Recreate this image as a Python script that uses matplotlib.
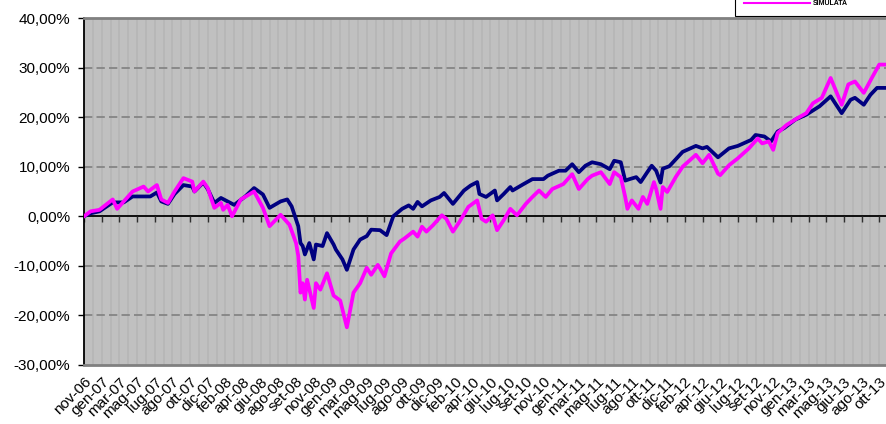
import matplotlib
matplotlib.use("Agg")
from matplotlib import pyplot as plt
from matplotlib.ticker import FuncFormatter

plt.rcParams['font.family'] = ['Liberation Sans', 'DejaVu Sans']

# weekly index (0 = nov-06) and cumulative return in %
bench_weeks = [0, 3, 7, 13, 18, 22, 27, 30, 33, 35, 38, 41, 45, 49, 50, 54, 56, 59, 62, 65,
               68, 73, 77, 81, 84, 89, 92, 94, 97, 98, 99, 100, 102, 104, 105, 108, 110, 113,
               114, 117, 119, 122, 125, 128, 130, 134, 137, 140, 144, 147, 149, 151, 153, 157,
               161, 163, 167, 172, 175, 178, 179, 182, 186, 187, 190, 193, 194, 199, 203, 208,
               210, 215, 218, 221, 224, 227, 230, 234, 238, 240, 243, 245, 247, 250, 252, 255,
               257, 259, 261, 262, 265, 271, 277, 280, 282, 287, 292, 296, 302, 304, 308, 311,
               314, 317, 322, 327, 333, 338, 343, 347, 349, 353, 356, 359, 363]
bench = [0.0, 0.6, 1.0, 2.8, 2.8, 4.0, 4.0, 4.0, 4.8, 3.0, 2.5, 4.5, 6.3, 6.0, 5.0, 6.8, 5.5,
         2.7, 3.7, 3.0, 2.3, 4.0, 5.7, 4.4, 1.7, 3.0, 3.4, 2.0, -2.0, -5.4, -6.0, -7.7, -5.4,
         -8.7, -5.7, -6.0, -3.4, -5.7, -6.7, -8.7, -10.8, -6.7, -4.7, -4.0, -2.7, -2.8, -3.8,
         0.0, 1.5, 2.2, 1.5, 2.9, 2.0, 3.2, 3.9, 4.7, 2.5, 5.2, 6.2, 6.9, 4.5, 3.9, 5.2, 3.2,
         4.5, 5.9, 5.2, 6.5, 7.5, 7.5, 8.2, 9.2, 9.2, 10.5, 8.9, 10.2, 10.9, 10.5, 9.5, 11.2,
         10.9, 7.2, 7.5, 7.9, 6.9, 8.9, 10.2, 9.2, 6.8, 9.6, 10.1, 13.0, 14.2, 13.7, 14.0, 11.9,
         13.7, 14.2, 15.4, 16.4, 16.1, 15.1, 17.1, 17.8, 19.5, 20.5, 22.2, 24.2, 20.8, 23.5,
         23.9, 22.5, 24.5, 25.9, 25.9]

sim_weeks = [0, 3, 7, 13, 15, 18, 22, 27, 29, 33, 35, 38, 41, 45, 49, 50, 54, 56, 59, 62, 63,
             65, 67, 71, 77, 81, 84, 89, 91, 93, 96, 97, 98, 99, 100, 101, 104, 105, 107, 110,
             113, 116, 119, 122, 125, 128, 130, 133, 134, 136, 139, 143, 145, 149, 151, 153,
             155, 158, 162, 164, 167, 170, 174, 178, 180, 182, 185, 187, 190, 193, 196, 200,
             203, 206, 209, 212, 217, 221, 224, 228, 230, 234, 238, 240, 243, 245, 246, 248,
             251, 253, 255, 258, 259, 261, 262, 264, 268, 271, 277, 280, 283, 287, 288, 292,
             296, 301, 305, 307, 310, 312, 314, 318, 323, 327, 330, 334, 338, 343, 346, 349,
             353, 357, 360, 363]
sim = [0.0, 1.0, 1.3, 3.4, 1.5, 3.0, 5.0, 6.0, 5.0, 6.3, 3.4, 2.7, 5.0, 7.7, 7.0, 5.0, 7.0,
       5.7, 1.7, 2.7, 1.3, 2.3, 0.0, 3.4, 5.0, 1.7, -2.0, 0.3, -0.7, -1.7, -5.4, -8.0, -15.4,
       -13.5, -16.8, -12.8, -18.5, -13.5, -14.8, -11.5, -16.0, -17.0, -22.4, -15.4, -13.5,
       -10.4, -11.8, -9.8, -10.5, -12.1, -7.5, -5.1, -4.5, -3.1, -4.1, -2.1, -3.1, -1.8, 0.2,
       -0.5, -3.1, -1.1, 1.9, 3.2, -0.5, -1.1, 0.2, -2.8, -0.8, 1.5, 0.2, 2.5, 3.9, 5.2, 3.9,
       5.5, 6.5, 8.5, 5.5, 7.5, 8.2, 8.9, 6.5, 8.9, 7.9, 3.9, 1.5, 3.2, 1.5, 3.9, 2.5, 6.9,
       5.5, 1.5, 5.9, 4.9, 8.0, 10.0, 12.4, 10.7, 12.4, 8.6, 8.3, 10.3, 11.7, 13.7, 15.7,
       14.7, 15.1, 13.4, 16.8, 18.4, 19.8, 20.8, 22.8, 23.9, 27.9, 22.5, 26.6, 27.2, 24.9,
       28.2, 30.6, 30.6]

month_labels = ["nov-06", "gen-07", "mar-07", "mag-07", "lug-07", "ago-07", "ott-07", "dic-07",
                "feb-08", "apr-08", "giu-08", "ago-08", "set-08", "nov-08", "gen-09", "mar-09",
                "mag-09", "lug-09", "ago-09", "ott-09", "dic-09", "feb-10", "apr-10", "giu-10",
                "lug-10", "set-10", "nov-10", "gen-11", "mar-11", "mag-11", "lug-11", "ago-11",
                "ott-11", "dic-11", "feb-12", "apr-12", "giu-12", "lug-12", "set-12", "nov-12",
                "gen-13", "mar-13", "mag-13", "giu-13", "ago-13", "ott-13"]
label_step = 8   # one label every 8 weeks
n_weeks = 366

fig = plt.figure(figsize=(8.86, 4.24), dpi=100)
W, H = 886, 424
ax = fig.add_axes([84 / W, 59 / H, n_weeks * 2.209 / W, 347 / H])
ax.set_facecolor("#c0c0c0")

# faint vertical stripes every 4 weeks
for w in range(4, n_weeks, 4):
    ax.axvline(w, color="#b5b5b5", lw=1.1, zorder=0.5)

ax.set_ylim(-30, 40)
ax.set_xlim(0, n_weeks)
ax.set_yticks(range(-30, 41, 10))
ax.yaxis.set_major_formatter(FuncFormatter(lambda v, p: f"{v:.2f}%".replace(".", ",")))
for v in range(-20, 40, 10):
    if v != 0:
        ax.axhline(v, color="#808080", lw=1.2, dashes=(5, 2.5), zorder=1)

ticks = [i * label_step for i in range(len(month_labels))]
ax.set_xticks(ticks)
ax.set_xticklabels(month_labels, rotation=45, ha="right", va="top", rotation_mode="anchor")
ax.tick_params(axis="x", length=0, pad=7, labelsize=11)
ax.tick_params(axis="y", length=4, width=1, direction="out", pad=6, labelsize=11)

# category axis crossing at zero with tick marks
ax.axhline(0, color="black", lw=1.3, zorder=2)
ax.vlines(ticks, -1.1, 0, color="#303030", lw=1.0, zorder=2)

ax.plot(bench_weeks, bench, color="#000080", lw=2.7, label="BENCHMARK DI RIFERIMENTO",
        zorder=3, solid_joinstyle="round")
ax.plot(sim_weeks, sim, color="#ff00ff", lw=2.7, label="SIMULATA", zorder=4,
        solid_joinstyle="round")

ax.spines["left"].set_color("black")
ax.spines["left"].set_linewidth(1.3)
for s in ["top", "bottom", "right"]:
    ax.spines[s].set_color("#808080")
    ax.spines[s].set_linewidth(2)

leg = ax.legend(loc="lower left", bbox_to_anchor=(735 / W, 1 - 16 / H),
                bbox_transform=fig.transFigure, prop={"size": 5, "weight": "bold"},
                frameon=True, fancybox=False, edgecolor="black", borderpad=1.3,
                borderaxespad=0, handlelength=9.5, handletextpad=0.4, labelspacing=0.8,
                framealpha=1)
leg.get_frame().set_linewidth(0.8)
for line in leg.get_lines():
    line.set_linewidth(1.5)

fig.savefig("out.png", dpi=100)
